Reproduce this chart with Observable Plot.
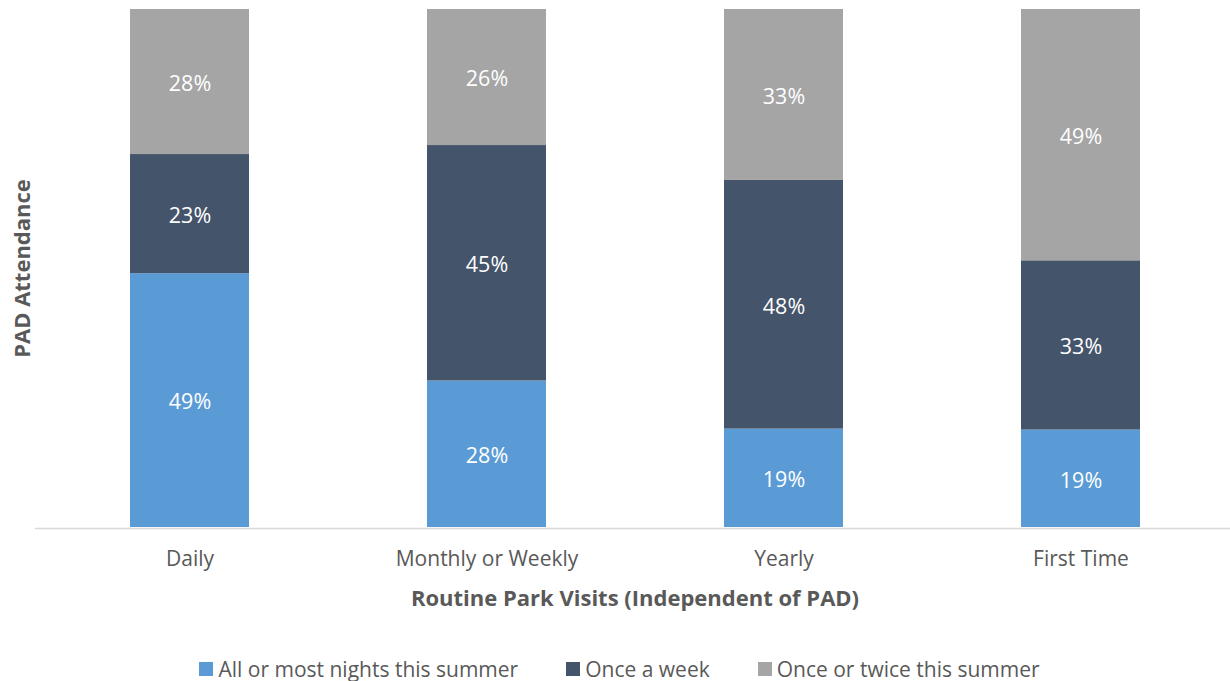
<!DOCTYPE html>
<html>
<head>
<meta charset="utf-8">
<script src="https://cdn.jsdelivr.net/npm/d3@7"></script>
<script src="https://cdn.jsdelivr.net/npm/@observablehq/plot@0.6"></script>
<style>
  body { margin: 0; background: #fff; font-family: "Open Sans", sans-serif; }
  #chart svg { display: block; }
  #legend { display: flex; justify-content: center; align-items: center; height: 41px; margin-top: 8px; font-size: 21px; color: #595959; margin-left: 9px; }
  .item { display: flex; align-items: center; margin: 0 24px; }
  .sw { width: 14px; height: 14px; margin-right: 5px; }
</style>
</head>
<body>
<div id="chart"></div>
<div id="legend"></div>
<script>
const categories = ["Daily", "Monthly or Weekly", "Yearly", "First Time"];
const seriesNames = ["All or most nights this summer", "Once a week", "Once or twice this summer"];
const colors = ["#5B9BD5", "#44546A", "#A5A5A5"];
const allOrMost = [49, 28, 19, 19];
const onceWeek = [23, 45, 48, 33];
const onceTwice = [28, 26, 33, 49];

const seriesValues = [allOrMost, onceWeek, onceTwice];
const data = [];
seriesNames.forEach((s, i) => categories.forEach((c, j) => data.push({category: c, series: s, value: seriesValues[i][j]})));

const chart = Plot.plot({
  width: 1230,
  height: 640,
  marginTop: 9,
  marginBottom: 113,
  marginLeft: 35,
  marginRight: 0,
  style: {fontFamily: "Open Sans", color: "#595959", background: "#fff"},
  x: {domain: categories, range: [40, 1229], paddingInner: 0.6, paddingOuter: 0.3, label: null},
  y: {axis: null},
  color: {domain: seriesNames, range: colors},
  marks: [
    Plot.barY(data, Plot.stackY({x: "category", y: "value", fill: "series", offset: "normalize"})),
    Plot.text(data, Plot.stackY({x: "category", y: "value", z: "series", offset: "normalize", text: d => d.value + "%", fill: "white", fontSize: 21.5, dy: 2})),
    Plot.ruleY([0], {stroke: "#d9d9d9", strokeWidth: 1.5, dy: 1}),
    Plot.axisX({tickSize: 0, tickPadding: 24, fontSize: 21, fill: "#595959", label: null}),
    Plot.text(["PAD Attendance"], {frameAnchor: "left", textAnchor: "middle", lineAnchor: "middle", dx: -13, rotate: -90, fontSize: 22, fontWeight: "bold", fill: "#595959"}),
    Plot.text(["Routine Park Visits (Independent of PAD)"], {frameAnchor: "bottom", textAnchor: "middle", lineAnchor: "middle", dx: 2, dy: 71, fontSize: 22, fontWeight: "bold", fill: "#595959"})
  ]
});
document.getElementById("chart").append(chart);

const legend = document.getElementById("legend");
seriesNames.forEach((s, i) => {
  const it = document.createElement("div");
  it.className = "item";
  const sw = document.createElement("span");
  sw.className = "sw";
  sw.style.background = colors[i];
  const t = document.createElement("span");
  t.textContent = s;
  it.append(sw, t);
  legend.append(it);
});
</script>
</body>
</html>
